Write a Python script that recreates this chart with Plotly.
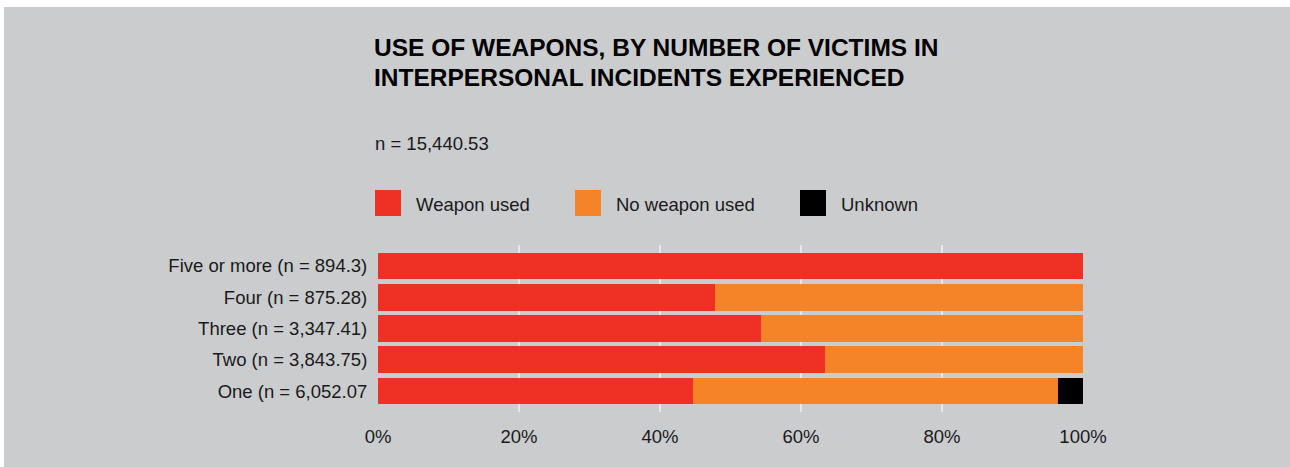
import plotly.graph_objects as go

# Categories listed top to bottom
categories = [
    "Five or more (n = 894.3)",
    "Four (n = 875.28)",
    "Three (n = 3,347.41)",
    "Two (n = 3,843.75)",
    "One (n = 6,052.07",
]
weapon_used = [100.0, 47.8, 54.3, 63.4, 44.7]
no_weapon_used = [0.0, 52.2, 45.7, 36.6, 51.8]
unknown = [0.0, 0.0, 0.0, 0.0, 3.5]

series_names = ["Weapon used", "No weapon used", "Unknown"]
series_values = [weapon_used, no_weapon_used, unknown]
series_colors = ["#ee3124", "#f58428", "#000000"]

x_ticks = [0, 20, 40, 60, 80, 100]
x_tick_labels = ["0%", "20%", "40%", "60%", "80%", "100%"]

title_lines = ["USE OF WEAPONS, BY NUMBER OF VICTIMS IN",
               "INTERPERSONAL INCIDENTS EXPERIENCED"]
subtitle_text = "n = 15,440.53"

W, H = 1290, 467
PLOT_L, PLOT_R, PLOT_T, PLOT_B = 378, 1083, 245, 412
BG = "#cbccce"
TEXT = "#1a1a1a"
FONT = "Liberation Sans, Arial, Helvetica, sans-serif"
FS = 18.5


def px_x(px):
    return (px - PLOT_L) / (PLOT_R - PLOT_L)


def px_y(py):
    return (PLOT_B - py) / (PLOT_B - PLOT_T)


fig = go.Figure()
for name, vals, col in zip(series_names, series_values, series_colors):
    fig.add_trace(go.Bar(
        y=categories, x=vals, name=name, orientation="h",
        marker=dict(color=col, line=dict(width=0)),
        showlegend=False, hoverinfo="x+name",
    ))

shapes = [
    # grey panel behind everything
    dict(type="rect", xref="paper", yref="paper",
         x0=px_x(4), x1=px_x(W + 5), y0=px_y(H + 5), y1=px_y(7),
         fillcolor=BG, line=dict(width=0), layer="below"),
]
annotations = [
    dict(text=subtitle_text, xref="paper", yref="paper",
         x=px_x(373), y=px_y(143), xanchor="left", yanchor="middle",
         showarrow=False, font=dict(family=FONT, size=FS, color=TEXT)),
]
for i, line in enumerate(title_lines):
    annotations.append(dict(text="<b>" + line + "</b>", xref="paper", yref="paper",
                            x=px_x(372), y=px_y(47 + 30.5 * i), xanchor="left", yanchor="middle",
                            showarrow=False,
                            font=dict(family=FONT, size=24.5, color="#000000")))

# legend swatches and labels
legend_x = [375, 575, 800]
for lx, name, col in zip(legend_x, series_names, series_colors):
    shapes.append(dict(type="rect", xref="paper", yref="paper",
                       x0=px_x(lx), x1=px_x(lx + 26), y0=px_y(216), y1=px_y(190),
                       fillcolor=col, line=dict(width=0)))
    annotations.append(dict(text=name, xref="paper", yref="paper",
                            x=px_x(lx + 39), y=px_y(204), xanchor="left", yanchor="middle",
                            showarrow=False, font=dict(family=FONT, size=FS, color=TEXT)))

fig.update_layout(
    width=W, height=H,
    margin=dict(l=PLOT_L, r=W - PLOT_R, t=PLOT_T, b=H - PLOT_B, pad=0),
    paper_bgcolor="#ffffff", plot_bgcolor="rgba(0,0,0,0)",
    barmode="stack", bargap=0.14,
    font=dict(family=FONT, size=FS, color=TEXT),
    shapes=shapes, annotations=annotations,
    xaxis=dict(range=[0, 100], tickvals=x_ticks, ticktext=x_tick_labels,
               showgrid=True, gridcolor="#e8e8e8", gridwidth=2,
               zeroline=False, showline=False,
               ticks="outside", ticklen=8, tickcolor="rgba(0,0,0,0)",
               tickfont=dict(family=FONT, size=FS, color=TEXT)),
    yaxis=dict(type="category", categoryorder="array", categoryarray=categories,
               range=[4.67, -0.67], showgrid=False, zeroline=False, showline=False,
               ticks="outside", ticklen=6, tickcolor="rgba(0,0,0,0)",
               tickfont=dict(family=FONT, size=FS, color=TEXT)),
)

fig.write_html("out.html")
